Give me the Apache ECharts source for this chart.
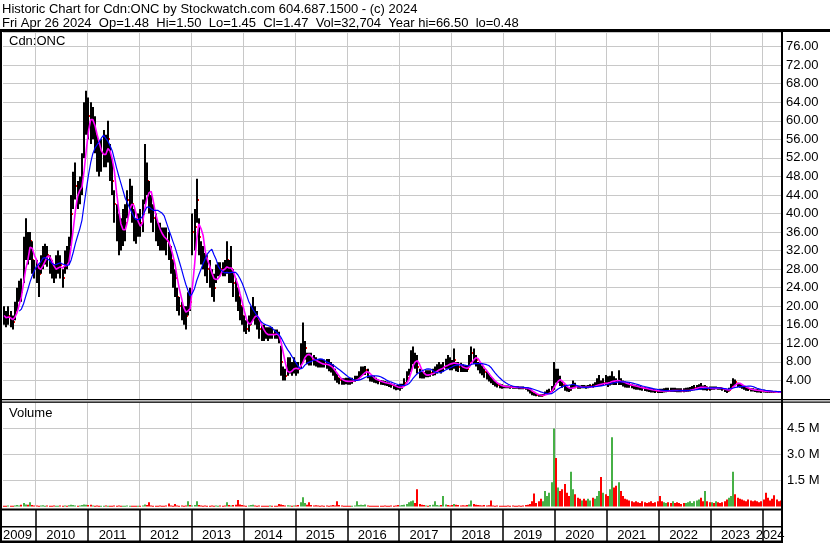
<!DOCTYPE html>
<html>
<head>
<meta charset="utf-8">
<title>Historic Chart for Cdn:ONC</title>
<script src="https://cdn.jsdelivr.net/npm/echarts@6/dist/echarts.min.js"></script>
<style>
  html, body { margin: 0; padding: 0; background: #fff; }
  #chart { width: 830px; height: 543px; }
</style>
</head>
<body>
<div id="chart"></div>
<script>
// one slot = half a month; the chart runs from late May 2009 to late April 2024
const years = [2009, 2010, 2011, 2012, 2013, 2014, 2015, 2016, 2017, 2018, 2019, 2020, 2021, 2022, 2023, 2024];
const slotsPerYear = [15, 24, 24, 24, 24, 24, 24, 24, 24, 24, 24, 24, 24, 24, 24, 9];

const closes = [
  [18, 17, 18, 17, 16.5, 19, 22, 24, 23, 31, 34, 32, 34, 30, 28],
  [28, 27, 29, 31, 32, 31, 29, 28, 27, 28, 30, 29, 26, 30, 30, 32, 40, 45, 46, 44, 45, 48, 60, 62],
  [61, 58, 60, 57, 53, 51, 53, 54, 53, 56, 51, 47, 42, 38, 36, 35, 37, 38, 43, 45, 42, 37, 36, 38],
  [38, 40, 48, 47, 43, 41, 39, 37, 36, 35, 35, 34, 34, 33, 30, 27, 26, 22, 20, 19, 18, 18, 21, 21],
  [36, 37, 43, 35, 32, 31, 29, 28, 27, 25, 24, 27, 28, 28, 28, 28, 30, 27, 28, 25, 24, 22, 20, 18],
  [16, 15, 16, 18, 19, 18, 17, 15, 14, 14, 14, 13.5, 14, 14, 14, 14, 13, 8, 5, 5, 6, 7, 6, 7],
  [6.5, 6.5, 8, 10, 11, 9, 8.5, 8.5, 8.5, 8, 7.5, 7.5, 7.5, 7.5, 7.5, 7, 6.5, 6, 5, 4.5, 4, 3.8, 3.8, 3.8],
  [3.8, 3.8, 3.9, 4.2, 4.4, 5, 5.8, 6, 6.2, 5.5, 4.5, 4.3, 4.2, 4, 3.8, 3.6, 3.5, 3.4, 3.3, 3.2, 3, 2.6, 2.4, 2.4],
  [2.6, 2.7, 3.5, 4.5, 6, 8.5, 9.5, 8, 7, 5.5, 5, 5, 5.3, 5.3, 5.5, 5.7, 6, 6.5, 6.8, 6.5, 7, 8, 7.5, 7.5],
  [7.5, 8.5, 7.2, 7, 6.8, 6.6, 6.5, 6.5, 8, 10, 9, 8.5, 7.5, 7, 6.5, 5.8, 5.2, 4.6, 4, 3.6, 3.2, 3, 2.8, 2.7],
  [2.6, 2.6, 2.6, 2.5, 2.5, 2.5, 2.5, 2.4, 2.4, 2.4, 2.3, 2.1, 1.7, 1.2, 1.0, 0.9, 0.8, 0.7, 0.8, 1.1, 1.4, 1.6, 2.0, 4.5],
  [4.2, 4.5, 3.5, 3, 2.5, 2.2, 2.0, 2.4, 3.0, 2.8, 2.5, 2.5, 2.6, 2.6, 2.5, 2.6, 2.7, 2.7, 3.0, 3.2, 3.3, 3.2, 3.5, 3.5],
  [3.5, 3.8, 4.2, 3.9, 3.8, 4.0, 3.6, 3.4, 3.2, 3.1, 3.0, 2.9, 2.7, 2.6, 2.5, 2.4, 2.3, 2.2, 2.1, 2.0, 1.9, 1.8, 1.8, 1.7],
  [1.7, 1.7, 1.75, 1.8, 1.8, 1.8, 1.85, 1.85, 1.8, 1.8, 1.8, 1.8, 1.85, 1.9, 2.0, 2.2, 2.4, 2.5, 2.6, 2.6, 2.4, 2.5, 2.2, 2.2],
  [2.3, 2.3, 2.4, 2.3, 2.3, 2.1, 1.9, 1.8, 2.0, 2.8, 3.8, 3.6, 3.2, 3.0, 2.7, 2.4, 2.2, 2.1, 2.0, 1.9, 1.9, 1.8, 1.8, 1.7],
  [1.7, 1.6, 1.6, 1.6, 1.55, 1.5, 1.5, 1.5, 1.47]
].flat();

const highs = [
  [20, 19, 20, 19, 18, 21, 24, 25.5, 26, 35, 39, 36, 36, 34, 30],
  [30, 29, 31, 33, 33.5, 33, 31, 30, 29, 31, 32, 31, 28, 32, 33, 35, 44, 49, 51, 47, 48, 53, 64, 66.5],
  [65, 64, 63, 61, 57, 55, 56, 58, 57, 60, 55, 52, 45, 42, 40, 39, 41, 42, 45, 47.5, 46, 41, 39, 40],
  [41, 43, 55, 51, 47, 44, 42, 40, 38, 38, 37, 37, 37, 36, 33, 30, 28, 24, 22, 21, 20, 20, 23, 24],
  [40, 41, 47.5, 39, 34, 33, 31.5, 31, 30, 28, 27, 29, 29.5, 29.5, 29.5, 30, 34, 30, 33, 28, 26, 24, 22, 20],
  [18, 17, 18, 20, 22, 20, 19, 17, 16, 16, 15.5, 15.5, 15.5, 15.5, 15, 15, 14.5, 11.5, 7, 6.5, 9, 9, 8, 9],
  [8, 8, 12, 16.5, 12.5, 10, 10, 10, 9.5, 9, 8.6, 8.6, 8.6, 8.5, 8.6, 8.6, 8, 7.5, 6.5, 5.5, 4.6, 4.5, 4.5, 4.6],
  [4.6, 4.6, 4.6, 5, 5, 6, 7, 7, 7.1, 6.5, 5, 5, 5, 4.6, 4.2, 4.1, 4, 3.9, 3.8, 3.6, 3.4, 3.2, 3, 3],
  [3.3, 3.3, 4.5, 6, 6.5, 10.5, 11.3, 10, 9.5, 6.5, 5.8, 5.8, 6.2, 6.2, 6.2, 6.5, 7, 7.5, 8, 7.5, 8, 8.7, 9.5, 9],
  [8.4, 10.9, 8, 8, 7.8, 7.5, 7.3, 7.3, 9.5, 11.3, 10.9, 9.5, 8, 7.8, 7.2, 6.5, 6, 5.5, 4.8, 4.4, 3.9, 3.4, 3.3, 3.2],
  [2.9, 2.9, 2.9, 2.8, 2.8, 2.8, 2.8, 2.7, 2.7, 2.7, 2.6, 2.5, 2.2, 1.6, 1.3, 1.2, 1.1, 1.0, 1.1, 1.6, 2.0, 2.2, 2.8, 8.0],
  [6.5, 6.5, 5, 3.8, 3.2, 2.8, 2.5, 3, 4, 3.5, 2.9, 2.9, 3, 3, 2.9, 3.0, 3.2, 3.3, 3.6, 4.5, 5.2, 4.0, 4.5, 5.2],
  [4.9, 5.0, 6.0, 4.9, 4.5, 6.2, 4.5, 4.0, 3.8, 3.6, 3.5, 3.3, 3.1, 3.0, 2.9, 2.8, 2.7, 2.6, 2.5, 2.4, 2.3, 2.2, 2.1, 2.0],
  [2.2, 2.2, 2.3, 2.4, 2.4, 2.4, 2.4, 2.4, 2.3, 2.3, 2.3, 2.3, 2.4, 2.5, 2.6, 2.8, 3.0, 3.0, 3.2, 3.45, 2.9, 3.0, 2.7, 2.7],
  [2.7, 2.7, 2.7, 2.6, 2.6, 2.4, 2.2, 2.1, 2.4, 3.3, 4.5, 4.2, 3.5, 3.4, 3.0, 2.7, 2.6, 2.4, 2.3, 2.3, 2.2, 2.2, 2.1, 2.0],
  [2.0, 1.9, 1.9, 1.85, 1.8, 1.75, 1.7, 1.65, 1.55]
].flat();

const lows = [
  [16, 15.5, 16, 15.5, 15, 17, 19, 21, 21, 25, 30, 29, 30, 27, 26],
  [25, 22, 27, 28, 29, 28.5, 27, 26, 25, 26, 27, 26, 24, 27, 28, 29, 33, 41, 43, 41, 42, 44, 52, 57],
  [56, 55, 56, 53, 49, 48, 49, 50, 50, 51, 47, 44, 38, 34, 31, 32, 33, 34, 39, 41, 38, 34, 33.5, 35],
  [35, 36, 42, 44, 40, 38, 36, 34, 33, 32, 32, 32, 31, 30, 27, 24, 22, 19, 18, 17, 16, 15, 18, 19],
  [31, 32, 38, 31, 29, 28, 26.5, 25, 24, 22, 21, 25, 26.5, 26.5, 26.5, 26.5, 27, 25, 25, 22, 21, 19, 17, 16],
  [14.5, 14, 14.5, 16, 17, 16, 15, 13, 12.5, 12.5, 13, 12.5, 13, 13, 13, 13, 12, 5, 4, 4, 5, 5.5, 5, 5.5],
  [5, 5.5, 6.5, 8, 8.5, 7.5, 7.2, 7.2, 7.2, 7, 6.8, 6.8, 6.8, 6.8, 6.5, 6, 5.7, 5, 4, 3.5, 3.2, 3.1, 3.1, 3.2],
  [3.1, 3.1, 3.3, 3.7, 3.9, 4.2, 4.8, 5.2, 5.2, 4.5, 3.8, 3.7, 3.5, 3.4, 3.2, 3.1, 3, 2.9, 2.8, 2.6, 2.4, 2.1, 1.9, 2],
  [1.8, 2.2, 2.8, 3.6, 5, 5.8, 7.5, 6.5, 5.5, 4.5, 4.4, 4.4, 4.7, 4.7, 4.8, 5, 5.1, 5.5, 5.8, 5.5, 5.8, 6.5, 6.5, 6.2],
  [6.2, 6.5, 6, 5.8, 5.8, 5.8, 5.8, 5.8, 6.8, 8, 7.5, 7, 6.2, 5.5, 5.1, 4.6, 4.2, 3.8, 3.4, 3, 2.7, 2.5, 2.3, 2.2],
  [2.3, 2.3, 2.3, 2.2, 2.2, 2.2, 2.2, 2.1, 2.1, 2.1, 2.0, 1.6, 1.2, 0.8, 0.7, 0.6, 0.5, 0.48, 0.6, 0.9, 1.1, 1.3, 1.5, 2.0],
  [3.5, 3.5, 2.8, 2.4, 1.8, 1.6, 1.5, 1.8, 2.3, 2.3, 2.2, 2.2, 2.3, 2.3, 2.2, 2.3, 2.4, 2.4, 2.6, 2.7, 2.8, 2.8, 3.0, 3.0],
  [2.6, 2.9, 3.1, 3.0, 3.0, 3.0, 3.0, 2.7, 2.5, 2.4, 2.4, 2.3, 2.1, 2.0, 2.0, 1.9, 1.8, 1.7, 1.6, 1.5, 1.4, 1.4, 1.3, 1.3],
  [1.3, 1.3, 1.4, 1.45, 1.5, 1.5, 1.5, 1.5, 1.45, 1.45, 1.45, 1.45, 1.5, 1.55, 1.6, 1.8, 1.9, 2.0, 2.1, 2.0, 1.9, 1.9, 1.8, 1.8],
  [2.0, 2.0, 2.1, 2.0, 2.0, 1.8, 1.5, 1.3, 1.6, 2.3, 2.8, 3.0, 2.6, 2.4, 2.2, 2.0, 1.8, 1.7, 1.6, 1.6, 1.5, 1.4, 1.4, 1.3],
  [1.4, 1.35, 1.35, 1.35, 1.35, 1.35, 1.4, 1.4, 1.42]
].flat();

// volume in millions of shares
const volumes = [
  [0.05, 0.04, 0.06, 0.05, 0.04, 0.06, 0.08, 0.06, 0.1, 0.2, 0.12, 0.1, 0.25, 0.08, 0.06],
  [0.06, 0.05, 0.06, 0.07, 0.05, 0.06, 0.04, 0.05, 0.06, 0.05, 0.04, 0.06, 0.05, 0.06, 0.05, 0.07, 0.1, 0.08, 0.06, 0.05, 0.06, 0.08, 0.12, 0.1],
  [0.08, 0.1, 0.06, 0.05, 0.06, 0.05, 0.04, 0.05, 0.06, 0.05, 0.04, 0.05, 0.06, 0.05, 0.06, 0.05, 0.04, 0.05, 0.06, 0.05, 0.04, 0.05, 0.04, 0.05],
  [0.05, 0.06, 0.12, 0.08, 0.25, 0.06, 0.05, 0.04, 0.05, 0.06, 0.05, 0.05, 0.06, 0.18, 0.06, 0.05, 0.15, 0.06, 0.05, 0.06, 0.05, 0.06, 0.3, 0.08],
  [0.06, 0.08, 0.3, 0.08, 0.06, 0.05, 0.06, 0.05, 0.04, 0.06, 0.05, 0.06, 0.05, 0.06, 0.05, 0.06, 0.25, 0.08, 0.06, 0.08, 0.1, 0.38, 0.12, 0.08],
  [0.06, 0.05, 0.06, 0.08, 0.1, 0.06, 0.05, 0.06, 0.05, 0.04, 0.05, 0.05, 0.06, 0.05, 0.04, 0.05, 0.15, 0.12, 0.08, 0.06, 0.07, 0.06, 0.05, 0.06],
  [0.06, 0.08, 0.25, 0.54, 0.2, 0.1, 0.25, 0.08, 0.06, 0.07, 0.06, 0.05, 0.06, 0.05, 0.06, 0.05, 0.06, 0.08, 0.06, 0.3, 0.08, 0.06, 0.05, 0.05],
  [0.05, 0.04, 0.05, 0.06, 0.3, 0.08, 0.1, 0.08, 0.12, 0.06, 0.05, 0.04, 0.05, 0.04, 0.05, 0.04, 0.05, 0.06, 0.05, 0.04, 0.06, 0.05, 0.06, 0.08],
  [0.06, 0.08, 0.1, 0.15, 0.25, 0.3, 0.35, 0.2, 1.0, 0.15, 0.1, 0.08, 0.06, 0.05, 0.08, 0.1, 0.3, 0.08, 0.06, 0.08, 0.6, 0.12, 0.08, 0.06],
  [0.08, 0.15, 0.1, 0.08, 0.06, 0.07, 0.06, 0.08, 0.12, 0.35, 0.15, 0.1, 0.08, 0.07, 0.06, 0.08, 0.06, 0.07, 0.35, 0.06, 0.05, 0.06, 0.05, 0.05],
  [0.05, 0.05, 0.06, 0.05, 0.06, 0.05, 0.05, 0.06, 0.05, 0.06, 0.08, 0.1, 0.15, 0.3, 0.75, 0.2, 0.3, 0.45, 0.3, 0.9, 0.6, 0.8, 1.4, 4.5],
  [2.8, 1.1, 0.9, 1.0, 1.3, 0.8, 0.6, 2.0, 1.0, 0.7, 0.5, 0.45, 0.35, 0.45, 0.35, 0.45, 0.35, 0.5, 0.45, 0.6, 0.9, 1.7, 0.8, 0.7],
  [0.6, 1.0, 4.0, 1.1, 1.2, 1.4, 0.9, 0.6, 0.45, 0.4, 0.35, 0.3, 0.25, 0.3, 0.25, 0.2, 0.3, 0.25, 0.2, 0.25, 0.3, 0.2, 0.25, 0.3],
  [0.6, 0.3, 0.25, 0.2, 0.25, 0.2, 0.3, 0.2, 0.25, 0.2, 0.15, 0.2, 0.2, 0.25, 0.3, 0.2, 0.3, 0.35, 0.4, 0.5, 0.3, 0.9, 0.3, 0.25],
  [0.25, 0.2, 0.3, 0.25, 0.2, 0.25, 0.3, 0.4, 0.5, 0.6, 2.0, 0.7, 0.5, 0.45, 0.4, 0.35, 0.3, 0.4, 0.35, 0.3, 0.35, 0.3, 0.25, 0.3],
  [0.4, 0.8, 0.5, 0.35, 0.45, 0.65, 0.4, 0.3, 0.35]
].flat();

const titleText = 'Historic Chart for Cdn:ONC by Stockwatch.com 604.687.1500 - (c) 2024\n' +
  'Fri Apr 26 2024  Op=1.48  Hi=1.50  Lo=1.45  Cl=1.47  Vol=32,704  Year hi=66.50  lo=0.48';

// half-month categories + where each year starts
const categories = [];
const yearStart = [];
years.forEach((y, n) => {
  yearStart.push(categories.length);
  const first = n === 0 ? 24 - slotsPerYear[n] : 0;
  for (let s = first; s < first + slotsPerYear[n]; s++) {
    const month = String(Math.floor(s / 2) + 1).padStart(2, '0');
    categories.push(y + '-' + month + (s % 2 ? 'b' : 'a'));
  }
});
const boundaries = new Set(yearStart.slice(1));
const labelSlots = new Set(years.map((y, n) => yearStart[n] + Math.floor(slotsPerYear[n] / 2) - 1));
const isBoundary = (i) => boundaries.has(i);
const isLabelSlot = (i) => labelSlots.has(i);

function movingAverage(values, n, start) {
  return values.map((v, i) => {
    if (i < start) return null;
    const win = values.slice(Math.max(0, i - n + 1), i + 1);
    return +(win.reduce((a, b) => a + b, 0) / win.length).toFixed(3);
  });
}

const FONT = '"Liberation Sans", Arial, sans-serif';
const UP = '#46b046';
const DOWN = '#ff0000';
const GRID_GRAY = '#c8c8c8';

const chart = echarts.init(document.getElementById('chart'));

const hiddenCat = (grid) => ({
  type: 'category',
  gridIndex: grid,
  data: categories,
  boundaryGap: true,
  axisLine: { show: false },
  axisTick: { show: false },
  axisLabel: { show: false },
  splitLine: { show: true, interval: isBoundary, lineStyle: { color: GRID_GRAY, width: 1 } }
});

const option = {
  animation: false,
  backgroundColor: '#fff',
  textStyle: { fontFamily: FONT },
  title: [
    { text: titleText, left: 2, top: 2, padding: 0,
      textStyle: { fontSize: 13, fontWeight: 'normal', color: '#000', lineHeight: 14, fontFamily: FONT } },
    { text: 'Cdn:ONC', left: 9, top: 35, padding: 0,
      textStyle: { fontSize: 13, fontWeight: 'normal', color: '#000', fontFamily: FONT } },
    { text: 'Volume', left: 9, top: 407, padding: 0,
      textStyle: { fontSize: 13, fontWeight: 'normal', color: '#000', fontFamily: FONT } }
  ],
  grid: [
    { left: 3, top: 32, width: 779, height: 367 },
    { left: 3, top: 402.5, width: 779, height: 104 },
    { left: 3, top: 510, width: 779, height: 31 }
  ],
  xAxis: [
    hiddenCat(0),
    hiddenCat(1),
    {
      type: 'category',
      gridIndex: 2,
      data: categories,
      boundaryGap: true,
      axisLine: { show: false },
      axisTick: { show: false },
      splitLine: { show: true, interval: isBoundary, lineStyle: { color: '#000', width: 1.5 } },
      axisLabel: {
        show: true, interval: isLabelSlot, inside: true, margin: -1,
        fontSize: 13, color: '#000', fontFamily: FONT,
        formatter: (v) => v.slice(0, 4)
      }
    }
  ],
  yAxis: [
    {
      type: 'value', gridIndex: 0, position: 'right',
      min: 0, max: 79.15, interval: 4,
      axisLine: { show: false }, axisTick: { show: false },
      splitLine: { show: true, lineStyle: { color: GRID_GRAY, width: 1 } },
      axisLabel: {
        margin: 4, fontSize: 13, color: '#000', fontFamily: FONT,
        formatter: (v) => (v > 0 && v % 4 === 0 ? v.toFixed(2) : '')
      }
    },
    {
      type: 'value', gridIndex: 1, position: 'right',
      min: 0, max: 6, interval: 1.5,
      axisLine: { show: false }, axisTick: { show: false },
      splitLine: { show: true, showMinLine: false, lineStyle: { color: GRID_GRAY, width: 1 } },
      axisLabel: {
        margin: 5, fontSize: 13, color: '#000', fontFamily: FONT,
        formatter: (v) => (v > 0 && v < 6 ? v.toFixed(1) + ' M' : '')
      }
    },
    { type: 'value', gridIndex: 2, show: false }
  ],
  series: [
    {
      name: 'Price',
      type: 'custom',
      xAxisIndex: 0, yAxisIndex: 0,
      encode: { x: 0, y: [1, 2, 3] },
      data: categories.map((c, i) => [i, highs[i], lows[i], closes[i]]),
      z: 2,
      renderItem: (params, api) => {
        const i = api.value(0);
        const top = api.coord([i, api.value(1)]);
        const bottom = api.coord([i, api.value(2)]);
        const close = api.coord([i, api.value(3)]);
        const x = Math.round(top[0]) - 1;
        return {
          type: 'group',
          children: [
            { type: 'rect', shape: { x: x, y: top[1], width: 2, height: Math.max(bottom[1] - top[1], 1) },
              style: { fill: '#000' } },
            { type: 'rect', shape: { x: x + 2, y: Math.round(close[1]) - 1, width: 1, height: 2 },
              style: { fill: '#ff0000' } }
          ]
        };
      }
    },
    {
      name: 'MA short',
      type: 'line',
      xAxisIndex: 0, yAxisIndex: 0,
      data: movingAverage(closes, 4, 0),
      showSymbol: false,
      z: 3,
      lineStyle: { color: '#ff00ff', width: 1.6 }
    },
    {
      name: 'MA long',
      type: 'line',
      xAxisIndex: 0, yAxisIndex: 0,
      data: movingAverage(closes, 10, 7),
      showSymbol: false,
      z: 4,
      lineStyle: { color: '#0000ff', width: 1.2 }
    },
    {
      name: 'Volume',
      type: 'custom',
      xAxisIndex: 1, yAxisIndex: 1,
      encode: { x: 0, y: 1 },
      data: volumes.map((v, i) => [i, v, i > 0 && closes[i] > closes[i - 1] ? 1 : 0]),
      z: 2,
      renderItem: (params, api) => {
        const i = api.value(0);
        const top = api.coord([i, api.value(1)]);
        const base = api.coord([i, 0]);
        return {
          type: 'rect',
          shape: { x: Math.round(top[0]) - 1, y: top[1], width: 2, height: Math.max(base[1] - top[1], 1) },
          style: { fill: api.value(2) ? UP : DOWN }
        };
      }
    }
  ],
  graphic: [
    { type: 'rect', z: 10, shape: { x: 0, y: 29, width: 830, height: 3 }, style: { fill: '#000' } },
    { type: 'rect', z: 10, shape: { x: 0, y: 29, width: 2, height: 514 }, style: { fill: '#000' } },
    { type: 'rect', z: 10, shape: { x: 781, y: 29, width: 2, height: 514 }, style: { fill: '#000' } },
    { type: 'rect', z: 10, shape: { x: 0, y: 399, width: 830, height: 1.2 }, style: { fill: '#000' } },
    { type: 'rect', z: 10, shape: { x: 0, y: 401.5, width: 830, height: 1.2 }, style: { fill: '#000' } },
    { type: 'rect', z: 10, shape: { x: 0, y: 508.5, width: 783, height: 2 }, style: { fill: '#000' } },
    { type: 'rect', z: 10, shape: { x: 0, y: 526, width: 783, height: 1.5 }, style: { fill: '#000' } },
    { type: 'rect', z: 10, shape: { x: 0, y: 540.5, width: 783, height: 2.5 }, style: { fill: '#000' } }
  ]
};

chart.setOption(option);
</script>
</body>
</html>
